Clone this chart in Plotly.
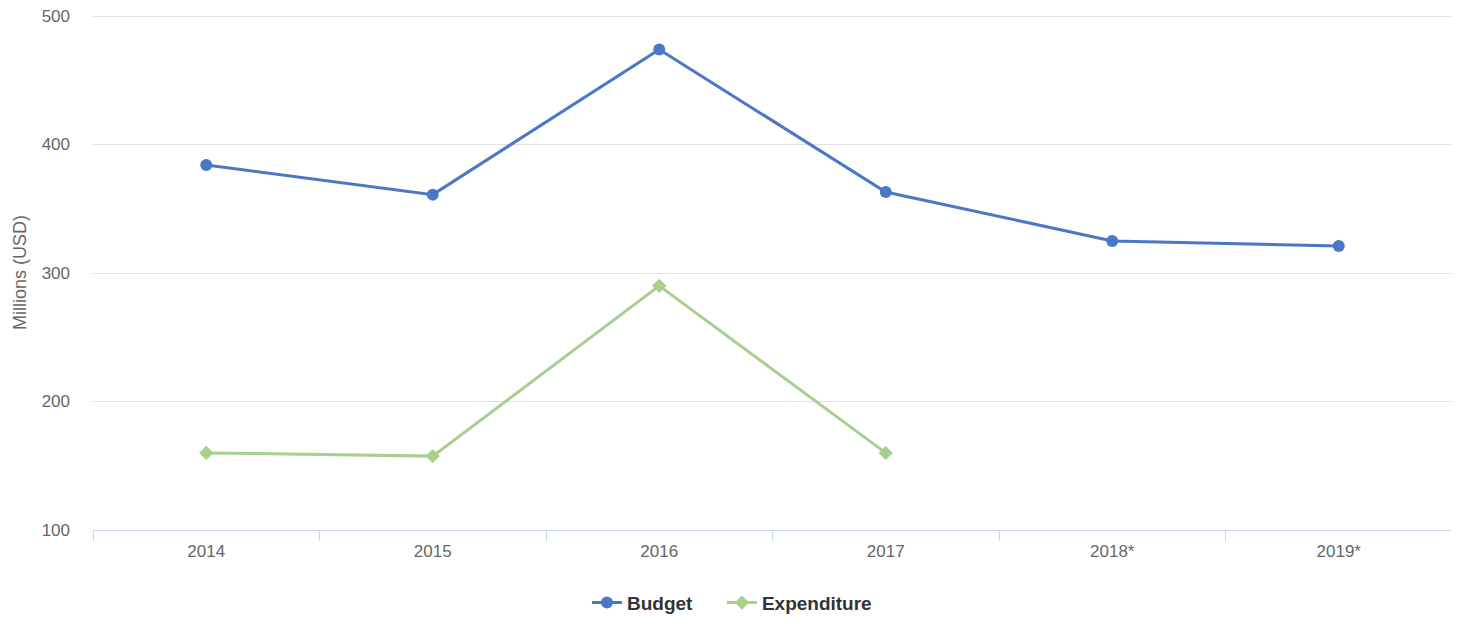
import plotly.graph_objects as go

categories = ["2014", "2015", "2016", "2017", "2018*", "2019*"]
budget = [384, 361, 474, 363, 325, 321]
expenditure = [160, 157.5, 290, 160, None, None]

fig = go.Figure()
fig.add_trace(go.Scatter(
    x=categories, y=budget, name="Budget", mode="lines+markers",
    line=dict(color="#4a78c6", width=3),
    marker=dict(symbol="circle", size=12, color="#4a78c6"),
    legend="legend",
))
fig.add_trace(go.Scatter(
    x=categories, y=expenditure, name="Expenditure", mode="lines+markers",
    line=dict(color="#a6d08b", width=3),
    marker=dict(symbol="diamond", size=11, color="#a6d08b"),
    legend="legend2",
))

legend_font = dict(size=19, color="#333333", weight="bold")
fig.update_layout(
    width=1451, height=610,
    margin=dict(l=85, r=7, t=7, b=88, autoexpand=False),
    plot_bgcolor="white", paper_bgcolor="white",
    font=dict(family="Liberation Sans, Arial, sans-serif", color="#666666", size=17),
    showlegend=True,
    legend=dict(orientation="h", xref="container", x=0.399, xanchor="left",
                yref="container", y=0.025, yanchor="middle", font=legend_font),
    legend2=dict(orientation="h", xref="container", x=0.492, xanchor="left",
                 yref="container", y=0.025, yanchor="middle", font=legend_font),
    xaxis=dict(
        type="category", range=[-0.5, 5.5], automargin=False,
        showgrid=False, showline=True, linecolor="#ccd6eb", linewidth=1,
        ticks="outside", tickson="boundaries", ticklen=10, tickcolor="#ccd6eb",
        ticklabelstandoff=6,
        tickfont=dict(size=17, color="#666666"),
    ),
    yaxis=dict(
        range=[100, 500.8], tickvals=[100, 200, 300, 400, 500], automargin=False,
        showgrid=True, gridcolor="#e0e0e0", gridwidth=1, zeroline=False,
        showline=False, ticks="", ticklabelstandoff=22, ticklabeloverflow="allow",
        tickfont=dict(size=17, color="#666666"),
        title=dict(text="Millions (USD)", font=dict(size=18, color="#666666"), standoff=10),
    ),
)

fig.write_html("out.html")
